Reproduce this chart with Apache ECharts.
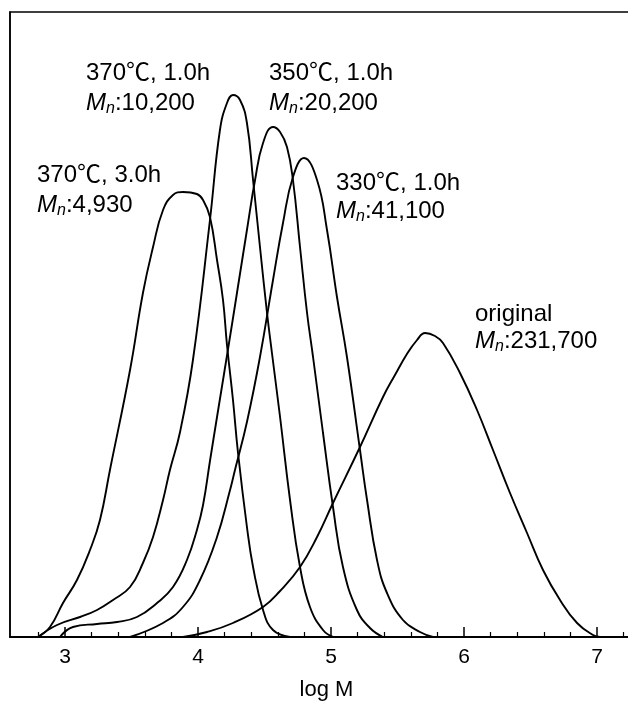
<!DOCTYPE html>
<html>
<head>
<meta charset="utf-8">
<script src="https://cdn.jsdelivr.net/npm/echarts@6/dist/echarts.min.js"></script>
<style>html,body{margin:0;padding:0;background:#fff}#c{width:628px;height:701px}</style>
</head>
<body>
<div id="c"></div>
<script>
// x: log M, y: detector response (arbitrary units)
const logM_370_3h = [2.797,2.887,2.985,3.090,3.188,3.263,3.338,3.489,3.586,3.662,3.737,3.812,3.887,3.992,4.038,4.090,4.143,4.188,4.218,4.263,4.301,4.368,4.414,4.489,4.564,4.692];
const int_370_3h  = [0,10,34,57,87,117,167,267,344,390,427,442,445,443,437,420,377,337,292,237,184,110,70,27,7,0];

const logM_370_1h = [2.797,2.940,3.113,3.241,3.361,3.489,3.586,3.662,3.737,3.789,3.865,3.962,4.090,4.165,4.218,4.263,4.316,4.368,4.414,4.466,4.519,4.556,4.617,4.692,4.767,4.842,4.940,5.015];
const int_370_1h  = [0,12,20,27,37,50,74,100,137,167,205,277,417,507,534,542,537,514,457,390,324,284,220,137,70,30,7,0];

const logM_350_1h = [2.962,3.060,3.241,3.391,3.541,3.692,3.812,3.917,3.992,4.038,4.090,4.143,4.226,4.293,4.368,4.429,4.489,4.564,4.617,4.669,4.714,4.767,4.820,4.865,4.940,5.015,5.090,5.195,5.293,5.391];
const int_350_1h  = [0,10,13,15,20,34,50,77,107,132,176,220,288,344,407,457,494,510,505,490,457,390,324,280,204,130,70,27,9,0];

const logM_330_1h = [3.489,3.737,3.887,4.015,4.143,4.241,4.278,4.368,4.466,4.564,4.639,4.714,4.797,4.895,4.970,5.045,5.120,5.218,5.271,5.346,5.421,5.541,5.669,5.767];
const int_330_1h  = [0,14,30,57,100,147,167,215,280,357,414,460,479,457,407,340,280,187,137,77,44,17,5,0];

const logM_orig = [3.887,4.068,4.263,4.489,4.617,4.767,4.895,5.015,5.218,5.391,5.481,5.571,5.647,5.707,5.782,5.842,5.970,6.098,6.218,6.346,6.474,6.594,6.722,6.850,6.970,7.023];
const int_orig  = [0,5,14,30,46,70,100,134,190,240,262,283,297,304,301,294,264,227,187,144,104,67,37,14,2,0];

const majorTicks = [3,4,5,6,7];
const minorTicks = [2.8,3.2,3.4,3.6,3.8,4.2,4.4,4.6,4.8,5.2,5.4,5.6,5.8,6.2,6.4,6.6,6.8,7.2];

const labels = [
  {line1:'370℃, 1.0h', mn:'10,200'},
  {line1:'350℃, 1.0h', mn:'20,200'},
  {line1:'370℃, 3.0h', mn:'4,930'},
  {line1:'330℃, 1.0h', mn:'41,100'},
  {line1:'original', mn:'231,700'}
];

function pairs(xs, ys){ return xs.map((x,i)=>[x, ys[i]]); }

const FONT = '"Liberation Sans", Arial, "Noto Sans CJK JP", sans-serif';
const xMin = 2.5865, xMax = 2.5865 + 633/133;

const seriesList = [
  pairs(logM_370_3h, int_370_3h),
  pairs(logM_370_1h, int_370_1h),
  pairs(logM_350_1h, int_350_1h),
  pairs(logM_330_1h, int_330_1h),
  pairs(logM_orig, int_orig)
].map(d => ({
  type:'line', data:d, smooth:0.45, showSymbol:false, symbol:'none',
  xAxisIndex:0, yAxisIndex:0,
  lineStyle:{color:'#000', width:1.9}, silent:true, animation:false
}));

const labelPos = [[86,65,95],[269,65,95],[37,167,197],[336,175,203],[475,306,333]];
const graphic = [];
labels.forEach((l,i)=>{
  const p = labelPos[i];
  graphic.push({type:'text', left:p[0], top:p[1]-4, style:{text:l.line1, font:'24px '+FONT, fill:'#000'}});
  graphic.push({type:'text', left:p[0], top:p[2]-4, style:{
    text:'{m|M}{s|n}{t|:'+l.mn+'}', fill:'#000',
    rich:{
      m:{fontStyle:'italic', fontSize:24, fontFamily:FONT, fill:'#000'},
      s:{fontStyle:'italic', fontSize:16, fontFamily:FONT, fill:'#000', padding:[12,0,0,0]},
      t:{fontSize:24, fontFamily:FONT, fill:'#000'}
    }}});
});

const chart = echarts.init(document.getElementById('c'), null, {renderer:'canvas'});
chart.setOption({
  animation:false,
  backgroundColor:'#fff',
  grid:{left:10, width:633, top:12, height:625, show:true, borderColor:'#000', borderWidth:1.5,
        backgroundColor:'transparent', containLabel:false, outerBoundsMode:'none'},
  xAxis:[
    {type:'value', min:xMin, max:xMax, position:'bottom',
     axisLine:{show:true, lineStyle:{color:'#000', width:2}},
     axisTick:{show:true, inside:true, length:10, customValues:majorTicks, lineStyle:{color:'#000', width:1.5}},
     axisLabel:{show:true, customValues:majorTicks, color:'#000', fontSize:21, fontFamily:FONT, margin:10},
     splitLine:{show:false},
     name:'log M', nameLocation:'middle', nameGap:42,
     nameTextStyle:{color:'#000', fontSize:22, fontFamily:FONT}},
    {type:'value', min:xMin, max:xMax, position:'bottom', gridIndex:0,
     axisLine:{show:false},
     axisTick:{show:true, inside:true, length:5, customValues:minorTicks, lineStyle:{color:'#000', width:1.2}},
     axisLabel:{show:false}, splitLine:{show:false}}
  ],
  yAxis:{type:'value', min:0, max:625, show:true,
    axisLine:{show:true, lineStyle:{color:'#000', width:1.5}},
    axisTick:{show:false}, axisLabel:{show:false}, splitLine:{show:false}},
  series: seriesList,
  graphic: graphic
});
</script>
</body>
</html>
